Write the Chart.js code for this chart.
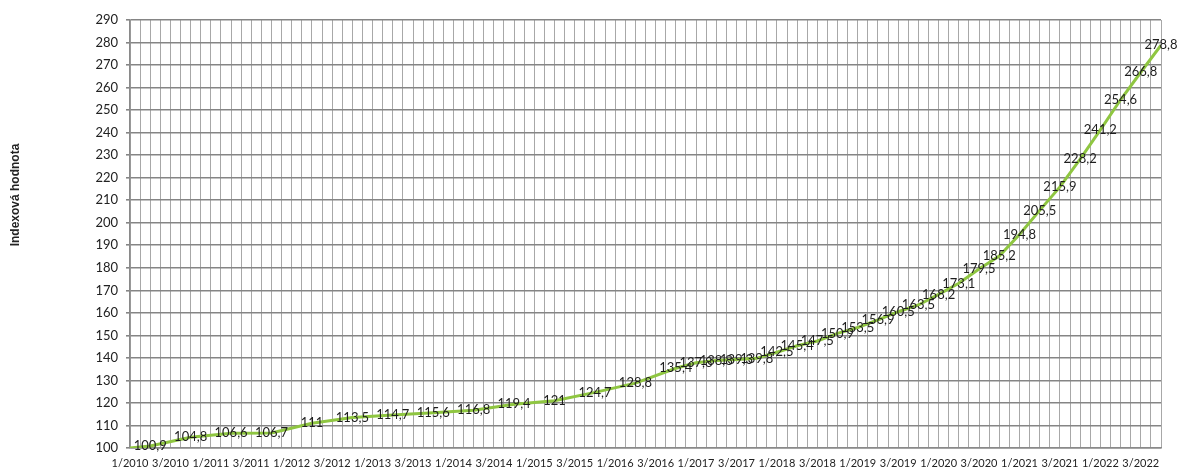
<!DOCTYPE html>
<html>
<head>
<meta charset="utf-8">
<script src="https://cdn.jsdelivr.net/npm/chart.js@4.4.1/dist/chart.umd.min.js"></script>
<style>
  html, body { margin: 0; padding: 0; background: #ffffff; }
  #wrap { width: 1181px; height: 468px; position: relative; }
</style>
</head>
<body>
<div id="wrap"><canvas id="indexChart"></canvas></div>
<script>
// tick labels on the x axis, one for every second quarter (positions 0, 2, 4 ...)
const xTickLabels = [
  '1/2010', '3/2010', '1/2011', '3/2011', '1/2012', '3/2012', '1/2013', '3/2013',
  '1/2014', '3/2014', '1/2015', '3/2015', '1/2016', '3/2016', '1/2017', '3/2017',
  '1/2018', '3/2018', '1/2019', '3/2019', '1/2020', '3/2020', '1/2021', '3/2021',
  '1/2022', '3/2022'
];

// index value per quarter, 1/2010 .. 4/2022 (null = no value for that quarter)
const indexValues = [
  100, 100.9, null, 104.8, null, 106.6, null, 106.7,
  null, 111, null, 113.5, null, 114.7, null, 115.6,
  null, 116.8, null, 119.4, null, 121, null, 124.7,
  null, 128.8, null, 135.4, 137.8, 138.8, 139.3, 139.8,
  142.5, 145.4, 147.5, 150.9, 153.5, 156.9, 160.5, 163.5,
  168.2, 173.1, 179.5, 185.2, 194.8, 205.5, 215.9, 228.2,
  241.2, 254.6, 266.8, 278.8
];

const yTitle = 'Indexová hodnota';

const points = indexValues.map((v, i) => ({ x: i, y: v }));

// value labels drawn centred on each point (first point is the 100 base, no label)
const valueLabels = {
  id: 'valueLabels',
  afterDatasetsDraw(chart) {
    const ctx = chart.ctx;
    const meta = chart.getDatasetMeta(0);
    ctx.save();
    ctx.font = '13px Lato';
    ctx.fillStyle = '#1e1e1e';
    ctx.textAlign = 'center';
    ctx.textBaseline = 'middle';
    meta.data.forEach((pt, i) => {
      const v = indexValues[i];
      if (v === null || i === 0) return;
      ctx.fillText(String(v).replace('.', ','), pt.x, pt.y);
    });
    ctx.restore();
  }
};

const sideTitle = {
  id: 'sideTitle',
  afterDraw(chart) {
    const ctx = chart.ctx;
    ctx.save();
    ctx.translate(16, 195);
    ctx.rotate(-Math.PI / 2);
    ctx.font = 'bold 12px "Liberation Sans"';
    ctx.fillStyle = '#222';
    ctx.textAlign = 'center';
    ctx.textBaseline = 'middle';
    ctx.fillText(yTitle, 0, 0);
    ctx.restore();
  }
};

try {
  const ctx = document.getElementById('indexChart').getContext('2d');
  new Chart(ctx, {
    type: 'line',
    data: {
      datasets: [{
        data: points,
        borderColor: '#8fc641',
        borderWidth: 3,
        pointRadius: 0,
        tension: 0,
        spanGaps: true
      }]
    },
    options: {
      responsive: true,
      maintainAspectRatio: false,
      animation: false,
      layout: {
        padding: { left: 60, right: 20, top: 20, bottom: 0 }
      },
      plugins: {
        legend: { display: false },
        tooltip: { enabled: false }
      },
      scales: {
        x: {
          type: 'linear',
          min: 0,
          max: 51,
          afterFit: scale => { scale.height = 20; },
          grid: {
            color: '#a8a8a8',
            lineWidth: 1,
            drawTicks: false
          },
          border: { color: '#8a8a8a', width: 1.5 },
          ticks: {
            stepSize: 0.5,
            autoSkip: false,
            maxRotation: 0,
            padding: 9,
            color: '#222',
            font: { family: 'Lato', size: 11 },
            callback: value => {
              if (Number.isInteger(value) && value % 2 === 0) {
                return xTickLabels[value / 2];
              }
              return '';
            }
          }
        },
        y: {
          min: 100,
          max: 290,
          afterFit: scale => { scale.width = 70; },
          grid: {
            color: '#858585',
            lineWidth: 1.6,
            tickLength: 4
          },
          border: { color: '#8a8a8a', width: 1.5 },
          ticks: {
            stepSize: 10,
            padding: 8,
            color: '#222',
            font: { family: 'Lato', size: 13 }
          }
        }
      }
    },
    plugins: [valueLabels, sideTitle]
  });
} catch (e) {
  console.error('Error creating indexChart:', e);
}
</script>
</body>
</html>
